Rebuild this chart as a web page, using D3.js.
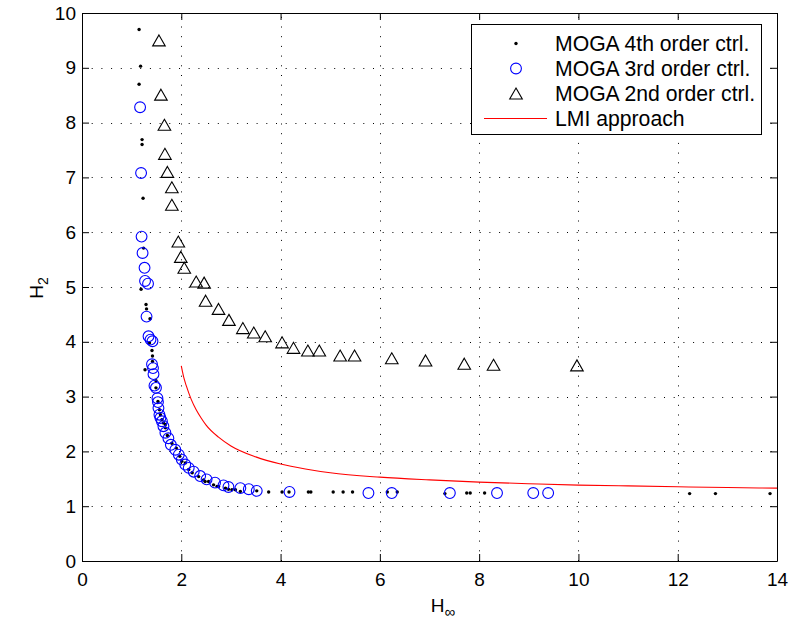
<!DOCTYPE html>
<html>
<head>
<meta charset="utf-8">
<script src="https://cdn.jsdelivr.net/npm/d3@7"></script>
<style>
html,body{margin:0;padding:0;background:#fff;}
svg{display:block;}
text{font-family:"Liberation Sans",Arial,Helvetica,sans-serif;fill:#000;}
</style>
</head>
<body>
<svg id="chart" width="789" height="624"></svg>
<script>
// ---- data ----
const moga4 = [[1.15,9.70],[1.18,9.03],[1.15,8.70],[1.21,7.69],[1.21,7.60],[1.23,6.62],[1.24,5.71],[1.19,4.96],[1.29,4.68],[1.30,4.60],[1.37,4.42],[1.36,3.98],[1.41,3.84],[1.42,3.74],[1.42,3.64],[1.27,3.49],[1.49,3.29],[1.49,3.16],[1.53,2.91],[1.56,2.76],[1.58,2.67],[1.61,2.58],[1.64,2.52],[1.68,2.49],[1.68,2.43],[1.72,2.29],[1.81,2.15],[1.90,2.06],[1.97,1.91],[2.01,1.82],[2.08,1.79],[2.15,1.67],[2.22,1.61],[2.35,1.54],[2.45,1.48],[2.48,1.45],[2.55,1.45],[2.65,1.39],[2.72,1.36],[2.75,1.36],[2.89,1.33],[2.95,1.31],[3.02,1.30],[3.09,1.30],[3.19,1.27],[3.52,1.28],[3.76,1.26],[4.03,1.26],[4.17,1.26],[4.56,1.26],[4.61,1.26],[5.06,1.26],[5.26,1.26],[5.45,1.26],[6.15,1.26],[6.35,1.26],[7.31,1.23],[7.75,1.24],[7.82,1.24],[8.11,1.24],[12.24,1.23],[12.76,1.23],[13.86,1.23]];
const moga3 = [[1.17,8.28],[1.19,7.08],[1.20,5.92],[1.22,5.62],[1.26,5.35],[1.27,5.11],[1.33,5.06],[1.30,4.46],[1.34,4.10],[1.38,4.04],[1.42,4.01],[1.41,3.59],[1.43,3.52],[1.44,3.41],[1.46,3.20],[1.49,3.16],[1.52,2.97],[1.53,2.90],[1.54,2.79],[1.56,2.67],[1.58,2.61],[1.61,2.55],[1.64,2.46],[1.68,2.34],[1.74,2.24],[1.79,2.12],[1.88,2.03],[1.95,1.94],[2.01,1.85],[2.08,1.76],[2.15,1.70],[2.25,1.63],[2.38,1.55],[2.51,1.49],[2.68,1.43],[2.85,1.38],[2.95,1.35],[3.19,1.33],[3.36,1.31],[3.52,1.28],[4.18,1.26],[5.77,1.24],[6.24,1.24],[7.41,1.24],[8.36,1.24],[9.09,1.24],[9.39,1.24]];
const moga2 = [[1.55,9.50],[1.59,8.51],[1.66,7.96],[1.67,7.43],[1.72,7.10],[1.81,6.82],[1.81,6.50],[1.94,5.83],[1.99,5.55],[2.06,5.35],[2.30,5.10],[2.46,5.08],[2.49,4.75],[2.75,4.60],[2.96,4.40],[3.24,4.25],[3.46,4.17],[3.69,4.10],[4.03,3.99],[4.26,3.89],[4.55,3.84],[4.78,3.84],[5.20,3.75],[5.49,3.75],[6.24,3.70],[6.92,3.66],[7.70,3.60],[8.29,3.58],[9.97,3.57]];
const lmi = [[2.00,3.56],[2.05,3.35],[2.10,3.20],[2.20,2.95],[2.30,2.76],[2.40,2.61],[2.50,2.48],[2.75,2.26],[3.00,2.10],[3.50,1.90],[4.00,1.77],[4.50,1.68],[5.00,1.61],[6.00,1.53],[7.00,1.48],[8.00,1.44],[9.00,1.41],[10.00,1.385],[11.00,1.37],[12.00,1.355],[13.00,1.34],[14.00,1.33]];
const xTicks = [0,2,4,6,8,10,12,14];
const yTicks = [0,1,2,3,4,5,6,7,8,9,10];
const legendLabels = ["MOGA 4th order ctrl.","MOGA 3rd order ctrl.","MOGA 2nd order ctrl.","LMI approach"];

// ---- layout ----
const L = 82, R = 777, T = 13, B = 561;
const svg = d3.select("#chart");
const x = d3.scaleLinear().domain([0,14]).range([L,R]);
const y = d3.scaleLinear().domain([0,10]).range([B,T]);
const FS = 19;

// grid
const grid = svg.append("g");
grid.selectAll("line.gx").data(xTicks.slice(1,-1)).join("line")
  .attr("x1",d=>Math.round(x(d))+0.5).attr("x2",d=>Math.round(x(d))+0.5)
  .attr("y1",B).attr("y2",T)
  .attr("stroke","#000").attr("stroke-width",1).attr("stroke-dasharray","1,8.7");
grid.selectAll("line.gy").data(yTicks.slice(1,-1)).join("line")
  .attr("y1",d=>Math.round(y(d))+0.5).attr("y2",d=>Math.round(y(d))+0.5)
  .attr("x1",L).attr("x2",R)
  .attr("stroke","#000").attr("stroke-width",1).attr("stroke-dasharray","1,8.7");

// axes (MATLAB-like inward ticks on all sides)
const tl = 7;
const axB = svg.append("g").attr("transform",`translate(0,${B})`)
  .call(d3.axisBottom(x).tickValues(xTicks).tickSizeInner(-tl).tickSizeOuter(0).tickPadding(12).tickFormat(d3.format("d")));
const axT = svg.append("g").attr("transform",`translate(0,${T})`)
  .call(d3.axisTop(x).tickValues(xTicks).tickSizeInner(-tl).tickSizeOuter(0).tickFormat(""));
const axL = svg.append("g").attr("transform",`translate(${L},0)`)
  .call(d3.axisLeft(y).tickValues(yTicks).tickSizeInner(-tl).tickSizeOuter(0).tickPadding(6).tickFormat(d3.format("d")));
const axR = svg.append("g").attr("transform",`translate(${R},0)`)
  .call(d3.axisRight(y).tickValues(yTicks).tickSizeInner(-tl).tickSizeOuter(0).tickFormat(""));
[axB,axT,axL,axR].forEach(a=>{
  a.select(".domain").attr("stroke","#000").attr("stroke-width",1);
  a.selectAll(".tick line").attr("stroke","#000");
  a.selectAll("text").attr("font-size",FS).attr("font-family","Liberation Sans, Arial, sans-serif").attr("fill","#000");
});
axB.selectAll("text").attr("dy","0.71em");

// series
const tri = "M0,-5.5L6.3,5.5L-6.3,5.5Z";
svg.append("g").selectAll("circle").data(moga4).join("circle")
  .attr("cx",d=>x(d[0])).attr("cy",d=>y(d[1])).attr("r",1.7).attr("fill","#000");
svg.append("g").selectAll("circle").data(moga3).join("circle")
  .attr("cx",d=>x(d[0])).attr("cy",d=>y(d[1])).attr("r",5.4)
  .attr("fill","none").attr("stroke","#0000ff").attr("stroke-width",1.1);
svg.append("g").selectAll("path").data(moga2).join("path")
  .attr("transform",d=>`translate(${x(d[0])},${y(d[1])})`).attr("d",tri)
  .attr("fill","none").attr("stroke","#000").attr("stroke-width",1.1);
svg.append("path").datum(lmi)
  .attr("d",d3.line().x(d=>x(d[0])).y(d=>y(d[1])).curve(d3.curveMonotoneX))
  .attr("fill","none").attr("stroke","#ff0000").attr("stroke-width",1.1);

// axis labels
const xl = svg.append("text").attr("x",443).attr("y",612).attr("font-size",FS).attr("text-anchor","middle");
xl.append("tspan").text("H");
xl.append("tspan").attr("font-size",15).attr("dy",5).text("∞");
const yl = svg.append("text").attr("transform","translate(43,288) rotate(-90)").attr("font-size",FS).attr("text-anchor","middle");
yl.append("tspan").text("H");
yl.append("tspan").attr("font-size",14).attr("dy",5).text("2");

// legend
const lg = svg.append("g");
lg.append("rect").attr("x",471.5).attr("y",24.5).attr("width",290).attr("height",110)
  .attr("fill","#fff").attr("stroke","#000").attr("stroke-width",1);
const rowY = i => 43.5 + i*25;
lg.append("circle").attr("cx",516).attr("cy",rowY(0)).attr("r",1.7).attr("fill","#000");
lg.append("circle").attr("cx",516).attr("cy",rowY(1)).attr("r",5.4).attr("fill","none").attr("stroke","#0000ff").attr("stroke-width",1.1);
lg.append("path").attr("transform",`translate(516,${rowY(2)})`).attr("d",tri).attr("fill","none").attr("stroke","#000").attr("stroke-width",1.1);
lg.append("line").attr("x1",484).attr("x2",547).attr("y1",rowY(3)).attr("y2",rowY(3)).attr("stroke","#ff0000").attr("stroke-width",1.1);
lg.selectAll("text").data(legendLabels).join("text")
  .attr("x",555).attr("y",(d,i)=>rowY(i)).attr("dy","0.36em").attr("font-size",21.2).text(d=>d);
</script>
</body>
</html>
